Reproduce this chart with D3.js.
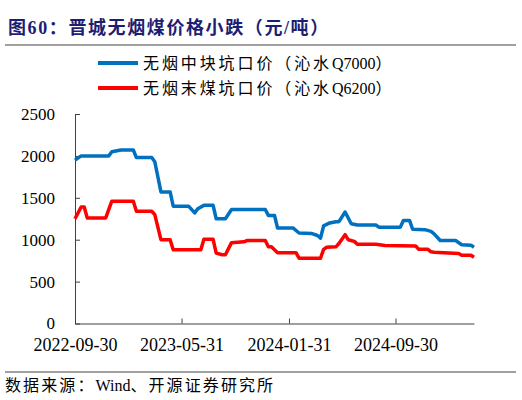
<!DOCTYPE html>
<html>
<head>
<meta charset="utf-8">
<script src="https://cdn.jsdelivr.net/npm/d3@7"></script>
<style>
  body { margin: 0; background: #fff; }
  svg { display: block; }
  .serif { font-family: 'Liberation Serif', 'Noto Sans CJK SC', serif; }
  .axis path, .axis line { stroke: #404040; stroke-width: 1; }
  .axis text { fill: #000; }
</style>
</head>
<body>
<svg id="chart" width="522" height="400"></svg>
<script>
// Series: price change points (yuan / ton)
const blueName = '无烟中块坑口价（沁水Q7000）';
const blueDates = ['2022-09-30', '2022-10-14', '2022-12-16', '2022-12-23', '2023-01-13', '2023-02-10',
  '2023-02-17', '2023-03-24', '2023-03-31', '2023-04-14', '2023-05-05', '2023-05-12', '2023-06-16',
  '2023-06-30', '2023-07-07', '2023-07-21', '2023-08-11', '2023-08-18', '2023-09-08', '2023-09-22',
  '2023-12-08', '2023-12-15', '2023-12-29', '2024-01-05', '2024-02-09', '2024-02-23', '2024-03-22',
  '2024-04-05', '2024-04-12', '2024-04-19', '2024-05-03', '2024-05-17', '2024-05-24', '2024-06-07',
  '2024-06-21', '2024-07-05', '2024-08-16', '2024-08-23', '2024-10-11', '2024-10-18', '2024-11-01',
  '2024-11-08', '2024-12-06', '2024-12-20', '2024-12-27', '2025-01-10', '2025-02-14', '2025-02-28',
  '2025-03-21', '2025-03-28'];
const blueValues = [1950, 2000, 2000, 2050, 2070, 2070,
  1980, 1980, 1930, 1570, 1570, 1400, 1400,
  1320, 1370, 1410, 1410, 1250, 1250, 1360,
  1360, 1290, 1290, 1140, 1140, 1080, 1075,
  1050, 1020, 1165, 1200, 1215, 1215, 1330,
  1190, 1175, 1175, 1150, 1150, 1230, 1230,
  1125, 1120, 1100, 1070, 990, 990, 940,
  935, 910];

const redName = '无烟末煤坑口价（沁水Q6200）';
const redDates = ['2022-09-30', '2022-10-14', '2022-10-21', '2022-10-28', '2022-12-09', '2022-12-23',
  '2023-02-10', '2023-02-17', '2023-03-24', '2023-03-31', '2023-04-14', '2023-05-05', '2023-05-12',
  '2023-07-14', '2023-07-21', '2023-08-11', '2023-08-18', '2023-09-01', '2023-09-08', '2023-09-22',
  '2023-10-20', '2023-10-27', '2023-12-08', '2023-12-15', '2023-12-22', '2024-01-05', '2024-02-16',
  '2024-02-23', '2024-04-12', '2024-04-19', '2024-04-26', '2024-05-17', '2024-05-24', '2024-06-07',
  '2024-06-14', '2024-06-28', '2024-07-05', '2024-08-16', '2024-09-06', '2024-11-15', '2024-11-22',
  '2024-12-13', '2024-12-20', '2024-12-27', '2025-02-21', '2025-02-28', '2025-03-21', '2025-03-28'];
const redValues = [1250, 1390, 1390, 1260, 1260, 1460,
  1460, 1340, 1340, 1300, 1000, 1000, 880,
  880, 1005, 1005, 840, 820, 820, 965,
  975, 990, 990, 915, 915, 845, 845,
  780, 780, 885, 910, 915, 955, 1060,
  1000, 980, 945, 945, 930, 925, 885,
  885, 855, 850, 835, 815, 815, 790];

// Axis ticks
const xTickLabels = ['2022-09-30', '2023-05-31', '2024-01-31', '2024-09-30'];
const yTicks = [0, 500, 1000, 1500, 2000, 2500];

const parse = d3.timeParse('%Y-%m-%d');
const blueData = blueDates.map((d, i) => ({ date: parse(d), value: blueValues[i] }));
const redData = redDates.map((d, i) => ({ date: parse(d), value: redValues[i] }));

const svg = d3.select('#chart');

// Plot area
const plot = { left: 75, right: 474, top: 114, bottom: 323.5 };

const xScale = d3
  .scaleTime()
  .domain([parse('2022-09-30'), parse('2025-03-28')])
  .range([plot.left, plot.right]);
const yScale = d3
  .scaleLinear()
  .domain([0, 2500])
  .range([plot.bottom, plot.top]);

// CJK glyphs get extra spacing, latin runs (Q7000, Wind) stay tight
function spacedText(sel, str, spacing) {
  str.split(/([A-Za-z0-9]+)/).filter(s => s.length).forEach(part => {
    sel.append('tspan')
      .style('letter-spacing', /[A-Za-z0-9]/.test(part) ? '0px' : spacing)
      .text(part);
  });
}

// Title + rules
svg.append('text')
  .attr('class', 'serif')
  .attr('x', 8)
  .attr('y', 34)
  .attr('fill', '#1d1d72')
  .style('font-size', '18px')
  .style('font-weight', 'bold')
  .style('letter-spacing', '1.6px')
  .text('图60：晋城无烟煤价格小跌（元/吨）');

svg.append('line')
  .attr('x1', 5).attr('x2', 516).attr('y1', 45).attr('y2', 45)
  .attr('stroke', '#808080').attr('stroke-width', 1.5);

svg.append('line')
  .attr('x1', 5).attr('x2', 516).attr('y1', 372).attr('y2', 372)
  .attr('stroke', '#808080').attr('stroke-width', 1.5);

svg.append('text')
  .attr('class', 'serif')
  .attr('x', 5)
  .attr('y', 391)
  .attr('fill', '#000')
  .style('font-size', '16px')
  .call(t => spacedText(t, '数据来源：Wind、开源证券研究所', '2.1px'));

// Axes
const xAxis = d3
  .axisBottom(xScale)
  .tickValues(xTickLabels.map(parse))
  .tickFormat(d3.timeFormat('%Y-%m-%d'))
  .tickSizeInner(-5)
  .tickSizeOuter(0)
  .tickPadding(15);

const yAxis = d3
  .axisLeft(yScale)
  .tickValues(yTicks)
  .tickFormat(d3.format('d'))
  .tickSizeInner(-5)
  .tickSizeOuter(0)
  .tickPadding(20);

svg.append('g')
  .attr('class', 'axis serif')
  .attr('transform', `translate(0,${plot.bottom})`)
  .call(xAxis)
  .call(g => g.selectAll('text').style('font-size', '18px'));

svg.append('g')
  .attr('class', 'axis serif')
  .attr('transform', `translate(${plot.left},0)`)
  .call(yAxis)
  .call(g => g.selectAll('text').style('font-size', '17px'));

// Lines
const line = d3
  .line()
  .x(d => xScale(d.date))
  .y(d => yScale(d.value));

const series = [
  { name: blueName, data: blueData, color: '#0070c0' },
  { name: redName, data: redData, color: '#ff0000' }
];

svg.selectAll('path.series')
  .data(series)
  .enter()
  .append('path')
  .attr('class', 'series')
  .attr('d', d => line(d.data))
  .attr('fill', 'none')
  .attr('stroke', d => d.color)
  .attr('stroke-width', 3.5)
  .attr('stroke-linejoin', 'round');

// Legend
const legend = svg.selectAll('g.legend')
  .data(series)
  .enter()
  .append('g')
  .attr('class', 'legend')
  .attr('transform', (d, i) => `translate(98,${63 + i * 25})`);

legend.append('line')
  .attr('x1', 0).attr('x2', 40)
  .attr('stroke', d => d.color)
  .attr('stroke-width', 4);

legend.append('text')
  .attr('class', 'serif')
  .attr('x', 45)
  .attr('y', 6)
  .style('font-size', '16px')
  .each(function (d) { spacedText(d3.select(this), d.name, '2.9px'); });
</script>
</body>
</html>
